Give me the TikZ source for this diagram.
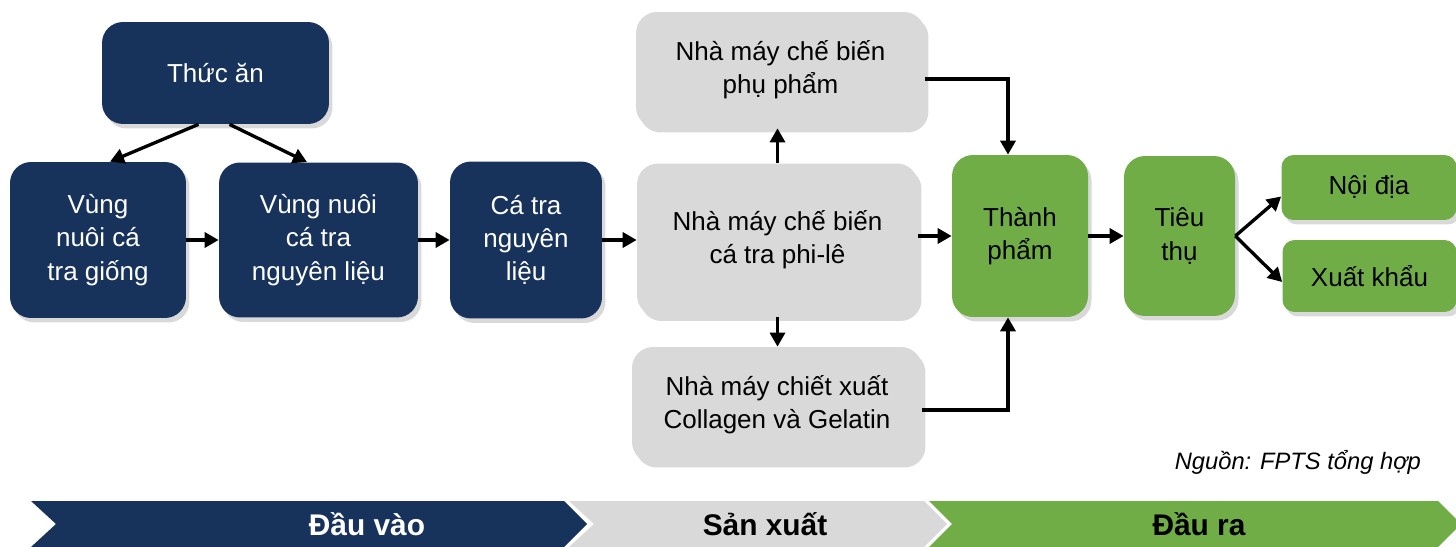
\documentclass[tikz,border=0pt]{standalone}
\usepackage{fontspec}
\setmainfont{Liberation Sans}
\usetikzlibrary{arrows.meta,shadows}
\definecolor{navy}{HTML}{17335C}
\definecolor{pale}{HTML}{D9D9D9}
\definecolor{leaf}{HTML}{70AD47}

\begin{document}
\begin{tikzpicture}[x=.02cm,y=-.02cm,
          every node/.style={font=\fontsize{14.8}{19}\selectfont},
          box/.style={rectangle,rounded corners=.42cm,align=center,inner sep=0pt,
              drop shadow={opacity=.3,shadow xshift=.07cm,shadow yshift=-.09cm}},
          inbox/.style={box,fill=navy,text=white},
          mkbox/.style={box,fill=pale},
          outbox/.style={box,fill=leaf},
          arr/.style={-{Triangle[length=.28cm,width=.3cm]},line width=1.9pt},
          band/.style={font=\fontsize{17}{20}\selectfont\bfseries}]
        \useasboundingbox (0,0) rectangle (1456,547);

        \node[inbox,minimum width=4.54cm,minimum height=2.04cm] (feed) at (215.5,73) {Thức ăn};
        \node[inbox,minimum width=3.52cm,minimum height=3.12cm] (seed) at (98,240)
          {Vùng\\nuôi cá\\tra giống};
        \node[inbox,minimum width=3.98cm,minimum height=3.1cm] (grow) at (318.5,240)
          {Vùng nuôi\\cá tra\\nguyên liệu};
        \node[inbox,minimum width=3.04cm,minimum height=3.14cm] (raw) at (526,240)
          {Cá tra\\nguyên\\liệu};
        \node[mkbox,minimum width=5.78cm,minimum height=2.32cm] (byprod) at (780.5,70)
          {Nhà máy chế biến\\phụ phẩm};
        \node[mkbox,minimum width=5.62cm,minimum height=3.06cm] (fillet) at (777.5,240)
          {Nhà máy chế biến\\cá tra phi-lê};
        \node[mkbox,minimum width=5.8cm,minimum height=2.32cm] (collagen) at (777,405)
          {Nhà máy chiết xuất\\Collagen và Gelatin};
        \node[outbox,minimum width=2.72cm,minimum height=3.24cm] (product) at (1020,236)
          {Thành\\phẩm};
        \node[outbox,minimum width=2.22cm,minimum height=3.2cm] (consume) at (1179.5,236)
          {Tiêu\\thụ};
        \node[outbox,rounded corners=.24cm,minimum width=3.5cm,minimum height=1.3cm]
          (domestic) at (1369,187.5) {Nội địa};
        \node[outbox,rounded corners=.24cm,minimum width=3.48cm,minimum height=1.44cm]
          (export) at (1369.5,276) {Xuất khẩu};

        \draw[arr] ([xshift=-.34cm]feed.south)--([xshift=.24cm]seed.north);
        \draw[arr] ([xshift=.28cm]feed.south)--([xshift=-.23cm]grow.north);
        \draw[arr] (seed)--(grow);
        \draw[arr] (grow)--(raw);
        \draw[arr] (raw)--(fillet);
        \draw[arr] (fillet.north)--(fillet.north |- byprod.south);
        \draw[arr] (fillet.south)--(fillet.south |- collagen.north);
        \draw[arr] ([yshift=-.18cm]byprod.east)-|([xshift=-.24cm]product.north);
        \draw[arr] ([yshift=-.1cm]collagen.east)-|([xshift=-.24cm]product.south);
        \draw[arr] (fillet.east |- product)--(product.west);
        \draw[arr] (product)--(consume);
        \draw[arr] (consume.east)--([yshift=-.18cm]domestic.west);
        \draw[arr] (consume.east)--([yshift=-.12cm]export.west);

        \node[font=\fontsize{13.5}{16}\selectfont\itshape,anchor=east] (source) at (1427,462)
          {Nguồn: FPTS tổng hợp};

        \fill[navy] (31,501)--(564,501)--(587,524)--(564,547)--(31,547)--(56,524)--cycle;
        \fill[pale] (569,501)--(924,501)--(947,524)--(924,547)--(569,547)--(594,524)--cycle;
        \fill[leaf] (929,501)--(1438,501)--(1461,524)--(1438,547)--(929,547)--(952,524)--cycle;
        \node[band,text=white] (inlabel) at (367,524) {Đầu vào};
        \node[band] (mklabel) at (765,524) {Sản xuất};
        \node[band] (outlabel) at (1199,524) {Đầu ra};
      \end{tikzpicture}
\end{document}
